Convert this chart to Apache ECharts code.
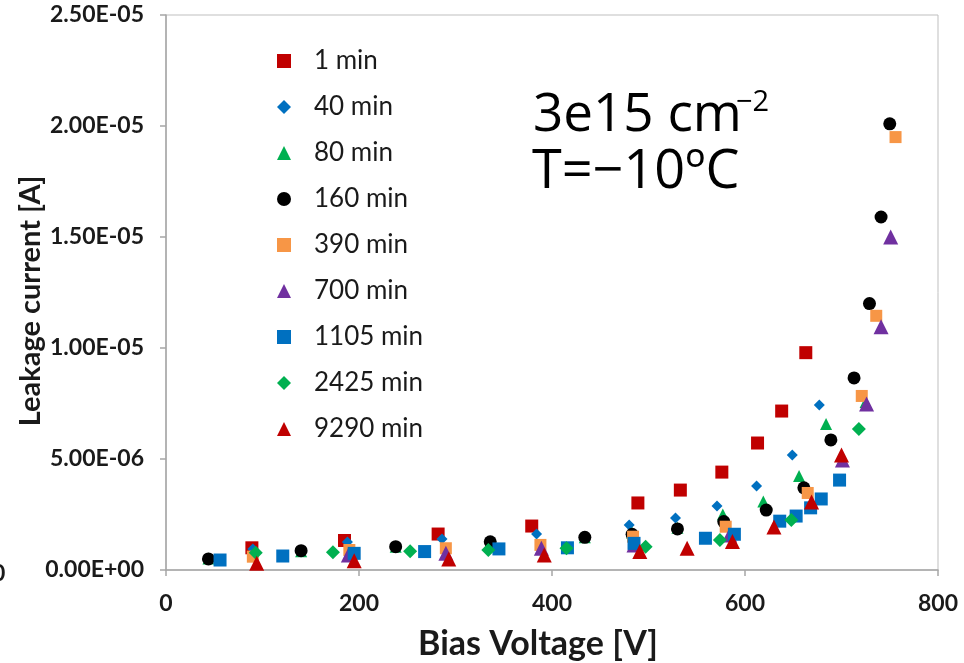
<!DOCTYPE html>
<html>
<head>
<meta charset="utf-8">
<script src="https://cdn.jsdelivr.net/npm/echarts@6/dist/echarts.min.js"></script>
<style>
html,body{margin:0;padding:0;background:#fff;}
#chart{width:964px;height:663px;}
</style>
</head>
<body>
<div id="chart"></div>
<script>
// ---- Data (Bias voltage [V], leakage current [A]) ----
const seriesNames = ['1 min','40 min','80 min','160 min','390 min','700 min','1105 min','2425 min','9290 min'];

const v1min   = [89, 185, 282, 379, 489, 533, 576, 613, 638, 663];
const i1min   = [1.0e-6, 1.33e-6, 1.62e-6, 1.98e-6, 3.02e-6, 3.6e-6, 4.41e-6, 5.72e-6, 7.16e-6, 9.79e-6];

const v40min  = [90, 188, 286, 384, 480, 528, 571, 612, 649, 677];
const i40min  = [0.95e-6, 1.26e-6, 1.4e-6, 1.62e-6, 2.03e-6, 2.34e-6, 2.88e-6, 3.78e-6, 5.18e-6, 7.43e-6];

const v80min  = [44, 140, 238, 336, 434, 483, 530, 577, 619, 656, 684, 725];
const i80min  = [0.52e-6, 0.85e-6, 1.05e-6, 1.25e-6, 1.48e-6, 1.68e-6, 1.9e-6, 2.5e-6, 3.08e-6, 4.23e-6, 6.58e-6, 7.57e-6];

const v160min = [44, 140, 238, 336, 434, 483, 530, 578, 622, 661, 689, 713, 729, 741, 750];
const i160min = [0.5e-6, 0.87e-6, 1.05e-6, 1.27e-6, 1.47e-6, 1.61e-6, 1.85e-6, 2.18e-6, 2.7e-6, 3.7e-6, 5.86e-6, 8.65e-6, 1.2e-5, 1.59e-5, 2.01e-5];

const v390min = [90, 190, 290, 388, 484, 580, 665, 721, 736, 756];
const i390min = [0.6e-6, 0.9e-6, 0.98e-6, 1.13e-6, 1.5e-6, 1.95e-6, 3.47e-6, 7.84e-6, 1.145e-5, 1.95e-5];

const v700min = [189, 290, 389, 485, 584, 701, 726, 741, 751];
const i700min = [0.68e-6, 0.75e-6, 0.98e-6, 1.13e-6, 1.58e-6, 4.95e-6, 7.48e-6, 1.096e-5, 1.5e-5];

const v1105min = [56, 121, 195, 268, 345, 416, 485, 559, 589, 636, 653, 668, 679, 698];
const i1105min = [0.45e-6, 0.63e-6, 0.75e-6, 0.83e-6, 0.95e-6, 1.0e-6, 1.2e-6, 1.43e-6, 1.61e-6, 2.2e-6, 2.43e-6, 2.8e-6, 3.2e-6, 4.05e-6];

const v2425min = [93, 173, 253, 334, 415, 497, 574, 648, 718];
const i2425min = [0.78e-6, 0.8e-6, 0.85e-6, 0.9e-6, 0.98e-6, 1.05e-6, 1.35e-6, 2.25e-6, 6.35e-6];

const v9290min = [94, 195, 293, 392, 491, 540, 587, 630, 669, 700];
const i9290min = [0.3e-6, 0.42e-6, 0.5e-6, 0.68e-6, 0.83e-6, 0.98e-6, 1.28e-6, 1.94e-6, 3.06e-6, 5.18e-6];

const xTicks = [0, 200, 400, 600, 800];
const yTicks = [0, 5e-6, 1e-5, 1.5e-5, 2e-5, 2.5e-5];

// ---- Styling (kept separate from data) ----
const seriesDefs = [
  {v: v1min,    i: i1min,    color: '#C00000', symbol: 'rect',     size: 13},
  {v: v40min,   i: i40min,   color: '#0070C0', symbol: 'diamond',  size: 11},
  {v: v80min,   i: i80min,   color: '#00B050', symbol: 'triangle', size: 12},
  {v: v160min,  i: i160min,  color: '#000000', symbol: 'circle',   size: 13},
  {v: v390min,  i: i390min,  color: '#F79646', symbol: 'rect',     size: 12},
  {v: v700min,  i: i700min,  color: '#7030A0', symbol: 'triangle', size: 15},
  {v: v1105min, i: i1105min, color: '#0070C0', symbol: 'rect',     size: 13},
  {v: v2425min, i: i2425min, color: '#00B050', symbol: 'diamond',  size: 14},
  {v: v9290min, i: i9290min, color: '#C00000', symbol: 'triangle', size: 15}
];

function fmtSci(val) {
  if (val === 0) return '0.00E+00';
  const s = val.toExponential(2);
  const parts = s.split('e');
  const exp = parseInt(parts[1], 10);
  const sign = exp < 0 ? '-' : '+';
  const a = Math.abs(exp);
  return parts[0] + 'E' + sign + (a < 10 ? '0' + a : '' + a);
}

const labelFont = 'Lato, "Open Sans", sans-serif';

const chart = echarts.init(document.getElementById('chart'));
const option = {
  backgroundColor: '#ffffff',
  animation: false,
  grid: {
    left: 166, right: 26, top: 15, bottom: 93,
    containLabel: false,
    outerBoundsMode: 'none',
    show: true, borderColor: '#BFBFBF', borderWidth: 1, backgroundColor: 'transparent'
  },
  legend: {
    orient: 'vertical',
    left: 272, top: 43,
    itemWidth: 14, itemHeight: 14,
    itemGap: 20,
    data: seriesNames,
    textStyle: {
      fontFamily: labelFont, fontSize: 26, color: '#1a1a1a',
      lineHeight: 26, padding: [0, 0, 0, 18]
    }
  },
  xAxis: {
    type: 'value',
    min: xTicks[0], max: xTicks[xTicks.length - 1], interval: 200,
    name: 'Bias Voltage [V]',
    nameLocation: 'middle', nameGap: 57,
    nameMoveOverlap: false,
    nameTextStyle: {fontFamily: labelFont, fontSize: 34, fontWeight: 'bold', color: '#1a1a1a', padding: [0, 28, 0, 0]},
    axisLine: {show: true, lineStyle: {color: '#A6A6A6', width: 1.5}},
    axisTick: {show: true, inside: false, length: 6, lineStyle: {color: '#A6A6A6', width: 1.5}},
    splitLine: {show: false},
    axisLabel: {fontFamily: labelFont, fontSize: 23, fontWeight: 'bold', color: '#1a1a1a', margin: 22}
  },
  yAxis: {
    type: 'value',
    min: yTicks[0], max: yTicks[yTicks.length - 1], interval: 5e-6,
    name: 'Leakage current [A]',
    nameLocation: 'middle', nameGap: 121,
    nameMoveOverlap: false,
    nameTextStyle: {fontFamily: labelFont, fontSize: 29, fontWeight: 'bold', color: '#1a1a1a', padding: [0, 17, 0, 0]},
    axisLine: {show: true, lineStyle: {color: '#A6A6A6', width: 1.5}},
    axisTick: {show: true, inside: false, length: 6, lineStyle: {color: '#A6A6A6', width: 1.5}},
    splitLine: {show: false},
    axisLabel: {fontFamily: labelFont, fontSize: 23, fontWeight: 'bold', color: '#1a1a1a', margin: 22, formatter: fmtSci}
  },
  graphic: [
    {type: 'text', left: 533, top: 89, style: {text: '3e15 cm', font: '53px "Open Sans", sans-serif', fill: '#000'}},
    {type: 'text', left: 736, top: 88, style: {text: '\u22122', font: '29px "Open Sans", sans-serif', fill: '#000'}},
    {type: 'text', left: 532, top: 146, style: {text: 'T=\u221210\u00BAC', font: '54px "Open Sans", sans-serif', fill: '#000'}},
    {type: 'text', left: -8, top: 562, style: {text: '0', font: 'bold 23px Lato, sans-serif', fill: '#1a1a1a'}}
  ],
  series: seriesDefs.map((d, k) => ({
    name: seriesNames[k],
    type: 'scatter',
    symbol: d.symbol,
    symbolSize: d.size,
    itemStyle: {color: d.color, opacity: 1},
    data: d.v.map((x, j) => [x, d.i[j]])
  }))
};
chart.setOption(option);
</script>
</body>
</html>
